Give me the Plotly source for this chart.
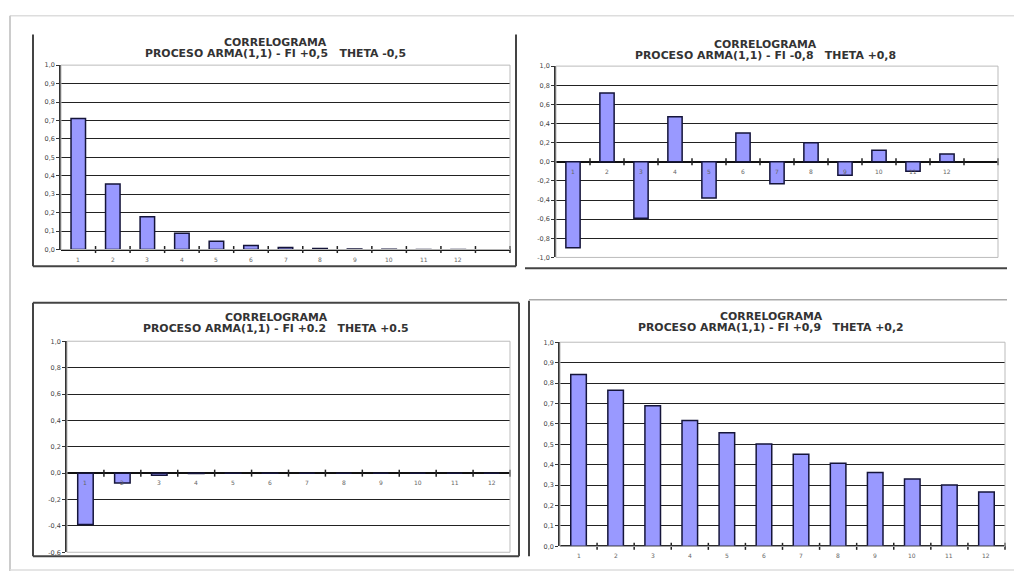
import plotly.graph_objects as go

# lags
lags = list(range(1, 13))

acf_p1 = [0.71, 0.355, 0.178, 0.089, 0.045, 0.022, 0.011, 0.0055, 0.0028, 0.0014, 0.0007, 0.0003]
acf_p2 = [-0.90, 0.72, -0.59, 0.47, -0.38, 0.30, -0.23, 0.20, -0.14, 0.12, -0.10, 0.08]
acf_p3 = [-0.39, -0.075, -0.016, -0.003, -0.0006, -0.0001, 0.0, 0.0, 0.0, 0.0, 0.0, 0.0]
acf_p4 = [0.842, 0.765, 0.689, 0.617, 0.556, 0.502, 0.451, 0.407, 0.362, 0.330, 0.300, 0.266]

titles = [
    "PROCESO ARMA(1,1) - FI +0,5\u00a0\u00a0\u00a0THETA -0,5",
    "PROCESO ARMA(1,1) - FI -0,8\u00a0\u00a0\u00a0THETA +0,8",
    "PROCESO ARMA(1,1) - FI +0.2\u00a0\u00a0\u00a0THETA +0.5",
    "PROCESO ARMA(1,1) - FI +0,9\u00a0\u00a0\u00a0THETA +0,2",
]

yticks_p1 = [round(i * 0.1, 1) for i in range(11)]
yticks_p2 = [round(-1 + i * 0.2, 1) for i in range(11)]
yticks_p3 = [round(-0.6 + i * 0.2, 1) for i in range(9)]
yticks_p4 = yticks_p1

W, H = 1014, 575
FONT = "DejaVu Sans"


def px(x):
    return x / W


def py(y):
    return 1 - y / H


def lab(v):
    return f"{v:.1f}".replace(".", ",")


# (values, yticks, n slots, plot area px box, title centre px)
panels = [
    (acf_p1, yticks_p1, 13, (61, 62, 510, 249), (275, 39)),
    (acf_p2, yticks_p2, 13, (556, 63, 998, 257), (765, 41)),
    (acf_p3, yticks_p3, 12, (67, 342, 510, 556), (276, 318)),
    (acf_p4, yticks_p4, 12, (560, 343, 1005, 550), (771, 317)),
]

fig = go.Figure()
annotations = []
shapes = []

for i, (vals, yt, nslots, box, tc) in enumerate(panels):
    n = i + 1
    xa = "x" if n == 1 else f"x{n}"
    ya = "y" if n == 1 else f"y{n}"
    fig.add_trace(go.Bar(
        x=lags, y=vals, width=0.42, xaxis=xa, yaxis=ya,
        marker=dict(color="#9999FF", line=dict(color="#15153a", width=1.5)),
        showlegend=False,
    ))
    bounds = [k + 0.5 for k in range(1, nslots + 1)]
    fig.add_trace(go.Scatter(
        x=bounds, y=[0] * len(bounds), xaxis=xa, yaxis=ya, mode="markers",
        marker=dict(symbol="line-ns-open", size=5, color="#222",
                    line=dict(color="#222", width=1.5)),
        showlegend=False, hoverinfo="skip", cliponaxis=False,
    ))
    x0, y0, x1, y1 = box
    fig.update_layout(**{
        ("xaxis" if n == 1 else f"xaxis{n}"): dict(
            domain=[px(x0), px(x1)], anchor=ya, range=[0.5, nslots + 0.5],
            showticklabels=False, showgrid=False, zeroline=False, ticks="",
            showline=False,
        ),
        ("yaxis" if n == 1 else f"yaxis{n}"): dict(
            domain=[py(y1), py(y0)], anchor=xa, range=[yt[0], yt[-1]],
            tickvals=yt, ticktext=[lab(v) for v in yt],
            tickfont=dict(family=FONT, size=6.5, color="#444"),
            ticks="outside", ticklen=3, tickcolor="#333",
            showgrid=True, gridcolor="#222", gridwidth=1,
            zeroline=True, zerolinecolor="#111", zerolinewidth=1.5,
            showline=True, linecolor="#333", linewidth=1.5,
        ),
    })
    # light plot-area border
    shapes.append(dict(type="rect", xref=f"{xa} domain", yref=f"{ya} domain",
                       x0=0, x1=1, y0=0, y1=1, line=dict(color="#bbb", width=1),
                       layer="above"))
    # category labels next to the axis crossing at 0
    for k in lags:
        annotations.append(dict(
            x=k, y=0, xref=xa, yref=ya, text=str(k), showarrow=False,
            yanchor="top", yshift=-4,
            font=dict(family=FONT, size=6, color="#666"),
        ))
    annotations.append(dict(
        x=px(tc[0]), y=py(tc[1]), xref="paper", yref="paper",
        text="<b>CORRELOGRAMA</b>", showarrow=False,
        xanchor="center", yanchor="middle",
        font=dict(family=FONT, size=10.9, color="#333"),
    ))
    annotations.append(dict(
        x=px(tc[0]), y=py(tc[1] + 11), xref="paper", yref="paper",
        text=f"<b>{titles[i]}</b>", showarrow=False,
        xanchor="center", yanchor="middle",
        font=dict(family=FONT, size=10.9, color="#333"),
    ))


def line(xa0, ya0, xa1, ya1, color="#444", width=2):
    shapes.append(dict(type="line", xref="paper", yref="paper",
                       x0=px(xa0), y0=py(ya0), x1=px(xa1), y1=py(ya1),
                       line=dict(color=color, width=width), layer="below"))


# page edges
line(10, 12, 1014, 12, "#ddd", 1.5)
line(10, 12, 10, 575, "#ccc", 2)
line(10, 574, 1014, 574, "#ddd", 1.5)
# chart frames
line(33, 31, 33, 266)
line(33, 266, 516, 266)
line(516, 31, 516, 266)
line(525, 268, 1007, 268)
line(33, 303, 519, 303)
line(33, 303, 33, 560)
line(519, 303, 519, 560)
line(33, 560, 519, 560)
line(529, 301, 529, 560)
line(529, 300, 1007, 300, "#aaa", 1.5)

fig.update_layout(
    width=W, height=H,
    margin=dict(l=0, r=0, t=0, b=0),
    paper_bgcolor="white", plot_bgcolor="white",
    annotations=annotations, shapes=shapes,
    bargap=0.58,
)

fig.write_html("out.html", config={"displayModeBar": False},
               post_script="document.body.style.margin = '0';")
